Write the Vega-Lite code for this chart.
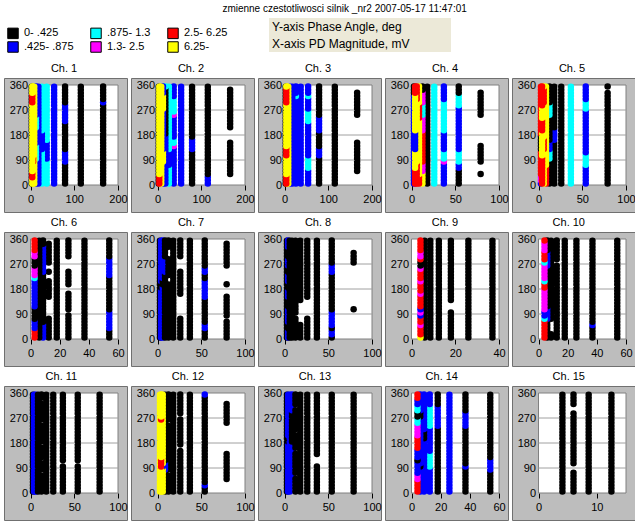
{
"$schema":"https://vega.github.io/schema/vega-lite/v6.json",
"padding":{"left":3,"top":4,"right":8,"bottom":0},
"background":"white",
"title":{"text":"zmienne czestotliwosci silnik _nr2 2007-05-17 11:47:01","fontSize":10,"fontWeight":"normal","font":"Liberation Sans","anchor":"middle","dx":25,"offset":4,"color":"#000000"},
"data":{"values":[
{"ch":1,"mv":2.8,"p0":5.625,"p1":354.375,"c":"k"},
{"ch":1,"mv":166,"p0":5.625,"p1":286.875,"c":"k"},
{"ch":1,"mv":166,"p0":298.125,"p1":298.125,"c":"b"},
{"ch":1,"mv":166,"p0":309.375,"p1":354.375,"c":"k"},
{"ch":1,"mv":115,"p0":5.625,"p1":354.375,"c":"k"},
{"ch":1,"mv":79,"p0":5.625,"p1":73.125,"c":"k"},
{"ch":1,"mv":79,"p0":84.375,"p1":118.125,"c":"b"},
{"ch":1,"mv":79,"p0":129.375,"p1":219.375,"c":"k"},
{"ch":1,"mv":79,"p0":230.625,"p1":286.875,"c":"b"},
{"ch":1,"mv":79,"p0":298.125,"p1":354.375,"c":"k"},
{"ch":1,"mv":54,"p0":5.625,"p1":354.375,"c":"b"},
{"ch":1,"mv":37,"p0":5.625,"p1":84.375,"c":"c"},
{"ch":1,"mv":37,"p0":95.625,"p1":151.875,"c":"b"},
{"ch":1,"mv":37,"p0":163.125,"p1":354.375,"c":"c"},
{"ch":1,"mv":26,"p0":5.625,"p1":118.125,"c":"c"},
{"ch":1,"mv":26,"p0":129.375,"p1":185.625,"c":"b"},
{"ch":1,"mv":26,"p0":196.875,"p1":354.375,"c":"c"},
{"ch":1,"mv":18,"p0":5.625,"p1":354.375,"c":"b"},
{"ch":1,"mv":12.5,"p0":5.625,"p1":84.375,"c":"b"},
{"ch":1,"mv":12.5,"p0":95.625,"p1":140.625,"c":"c"},
{"ch":1,"mv":12.5,"p0":151.875,"p1":196.875,"c":"b"},
{"ch":1,"mv":12.5,"p0":208.125,"p1":241.875,"c":"c"},
{"ch":1,"mv":12.5,"p0":253.125,"p1":354.375,"c":"b"},
{"ch":1,"mv":8.6,"p0":5.625,"p1":354.375,"c":"y"},
{"ch":1,"mv":6,"p0":5.625,"p1":73.125,"c":"y"},
{"ch":1,"mv":6,"p0":84.375,"p1":95.625,"c":"r"},
{"ch":1,"mv":6,"p0":106.875,"p1":354.375,"c":"y"},
{"ch":1,"mv":4.1,"p0":5.625,"p1":16.875,"c":"y"},
{"ch":1,"mv":4.1,"p0":28.125,"p1":39.375,"c":"r"},
{"ch":1,"mv":4.1,"p0":50.625,"p1":286.875,"c":"y"},
{"ch":1,"mv":4.1,"p0":298.125,"p1":320.625,"c":"r"},
{"ch":1,"mv":4.1,"p0":331.875,"p1":354.375,"c":"y"},

{"ch":2,"mv":2.8,"p0":5.625,"p1":354.375,"c":"k"},
{"ch":2,"mv":166,"p0":39.375,"p1":151.875,"c":"k"},
{"ch":2,"mv":166,"p0":208.125,"p1":343.125,"c":"k"},
{"ch":2,"mv":115,"p0":5.625,"p1":28.125,"c":"b"},
{"ch":2,"mv":115,"p0":39.375,"p1":354.375,"c":"k"},
{"ch":2,"mv":79,"p0":5.625,"p1":118.125,"c":"k"},
{"ch":2,"mv":79,"p0":129.375,"p1":163.125,"c":"b"},
{"ch":2,"mv":79,"p0":174.375,"p1":354.375,"c":"k"},
{"ch":2,"mv":54,"p0":5.625,"p1":354.375,"c":"b"},
{"ch":2,"mv":37,"p0":5.625,"p1":129.375,"c":"b"},
{"ch":2,"mv":37,"p0":140.625,"p1":140.625,"c":"m"},
{"ch":2,"mv":37,"p0":151.875,"p1":163.125,"c":"c"},
{"ch":2,"mv":37,"p0":174.375,"p1":241.875,"c":"b"},
{"ch":2,"mv":37,"p0":253.125,"p1":253.125,"c":"m"},
{"ch":2,"mv":37,"p0":264.375,"p1":309.375,"c":"c"},
{"ch":2,"mv":37,"p0":320.625,"p1":354.375,"c":"b"},
{"ch":2,"mv":26,"p0":5.625,"p1":61.875,"c":"c"},
{"ch":2,"mv":26,"p0":73.125,"p1":118.125,"c":"b"},
{"ch":2,"mv":26,"p0":129.375,"p1":354.375,"c":"c"},
{"ch":2,"mv":18,"p0":5.625,"p1":174.375,"c":"b"},
{"ch":2,"mv":18,"p0":185.625,"p1":343.125,"c":"k"},
{"ch":2,"mv":18,"p0":354.375,"p1":354.375,"c":"c"},
{"ch":2,"mv":12.5,"p0":5.625,"p1":73.125,"c":"b"},
{"ch":2,"mv":12.5,"p0":84.375,"p1":118.125,"c":"y"},
{"ch":2,"mv":12.5,"p0":129.375,"p1":264.375,"c":"b"},
{"ch":2,"mv":12.5,"p0":275.625,"p1":320.625,"c":"y"},
{"ch":2,"mv":12.5,"p0":331.875,"p1":354.375,"c":"b"},
{"ch":2,"mv":8.6,"p0":5.625,"p1":354.375,"c":"y"},
{"ch":2,"mv":6,"p0":5.625,"p1":354.375,"c":"y"},
{"ch":2,"mv":4.1,"p0":5.625,"p1":28.125,"c":"r"},
{"ch":2,"mv":4.1,"p0":39.375,"p1":354.375,"c":"y"},

{"ch":3,"mv":2.8,"p0":5.625,"p1":354.375,"c":"k"},
{"ch":3,"mv":166,"p0":50.625,"p1":151.875,"c":"k"},
{"ch":3,"mv":166,"p0":253.125,"p1":331.875,"c":"k"},
{"ch":3,"mv":115,"p0":5.625,"p1":354.375,"c":"k"},
{"ch":3,"mv":79,"p0":5.625,"p1":95.625,"c":"k"},
{"ch":3,"mv":79,"p0":106.875,"p1":129.375,"c":"b"},
{"ch":3,"mv":79,"p0":140.625,"p1":185.625,"c":"k"},
{"ch":3,"mv":79,"p0":196.875,"p1":241.875,"c":"b"},
{"ch":3,"mv":79,"p0":253.125,"p1":354.375,"c":"k"},
{"ch":3,"mv":54,"p0":5.625,"p1":50.625,"c":"b"},
{"ch":3,"mv":54,"p0":61.875,"p1":95.625,"c":"c"},
{"ch":3,"mv":54,"p0":106.875,"p1":219.375,"c":"b"},
{"ch":3,"mv":54,"p0":230.625,"p1":264.375,"c":"c"},
{"ch":3,"mv":54,"p0":275.625,"p1":309.375,"c":"b"},
{"ch":3,"mv":54,"p0":320.625,"p1":320.625,"c":"c"},
{"ch":3,"mv":54,"p0":331.875,"p1":354.375,"c":"b"},
{"ch":3,"mv":37,"p0":5.625,"p1":354.375,"c":"b"},
{"ch":3,"mv":26,"p0":5.625,"p1":309.375,"c":"b"},
{"ch":3,"mv":26,"p0":320.625,"p1":320.625,"c":"c"},
{"ch":3,"mv":26,"p0":331.875,"p1":354.375,"c":"b"},
{"ch":3,"mv":18,"p0":5.625,"p1":354.375,"c":"b"},
{"ch":3,"mv":12.5,"p0":5.625,"p1":354.375,"c":"b"},
{"ch":3,"mv":8.6,"p0":5.625,"p1":354.375,"c":"y"},
{"ch":3,"mv":6,"p0":5.625,"p1":354.375,"c":"y"},
{"ch":3,"mv":4.1,"p0":5.625,"p1":28.125,"c":"r"},
{"ch":3,"mv":4.1,"p0":39.375,"p1":95.625,"c":"y"},
{"ch":3,"mv":4.1,"p0":106.875,"p1":129.375,"c":"r"},
{"ch":3,"mv":4.1,"p0":140.625,"p1":286.875,"c":"y"},
{"ch":3,"mv":4.1,"p0":298.125,"p1":343.125,"c":"r"},
{"ch":3,"mv":4.1,"p0":354.375,"p1":354.375,"c":"y"},

{"ch":4,"mv":2.8,"p0":5.625,"p1":320.625,"c":"b"},
{"ch":4,"mv":2.8,"p0":331.875,"p1":354.375,"c":"k"},
{"ch":4,"mv":79,"p0":39.375,"p1":39.375,"c":"k"},
{"ch":4,"mv":79,"p0":84.375,"p1":140.625,"c":"k"},
{"ch":4,"mv":79,"p0":253.125,"p1":331.875,"c":"k"},
{"ch":4,"mv":54,"p0":5.625,"p1":50.625,"c":"k"},
{"ch":4,"mv":54,"p0":61.875,"p1":73.125,"c":"b"},
{"ch":4,"mv":54,"p0":84.375,"p1":118.125,"c":"c"},
{"ch":4,"mv":54,"p0":129.375,"p1":275.625,"c":"b"},
{"ch":4,"mv":54,"p0":286.875,"p1":320.625,"c":"c"},
{"ch":4,"mv":54,"p0":331.875,"p1":354.375,"c":"k"},
{"ch":4,"mv":37,"p0":5.625,"p1":73.125,"c":"b"},
{"ch":4,"mv":37,"p0":84.375,"p1":84.375,"c":"m"},
{"ch":4,"mv":37,"p0":95.625,"p1":118.125,"c":"c"},
{"ch":4,"mv":37,"p0":129.375,"p1":185.625,"c":"b"},
{"ch":4,"mv":37,"p0":196.875,"p1":298.125,"c":"c"},
{"ch":4,"mv":37,"p0":309.375,"p1":354.375,"c":"b"},
{"ch":4,"mv":26,"p0":5.625,"p1":354.375,"c":"c"},
{"ch":4,"mv":18,"p0":5.625,"p1":354.375,"c":"k"},
{"ch":4,"mv":12.5,"p0":5.625,"p1":39.375,"c":"y"},
{"ch":4,"mv":12.5,"p0":50.625,"p1":73.125,"c":"m"},
{"ch":4,"mv":12.5,"p0":84.375,"p1":185.625,"c":"r"},
{"ch":4,"mv":12.5,"p0":196.875,"p1":241.875,"c":"m"},
{"ch":4,"mv":12.5,"p0":253.125,"p1":286.875,"c":"c"},
{"ch":4,"mv":12.5,"p0":298.125,"p1":331.875,"c":"m"},
{"ch":4,"mv":12.5,"p0":343.125,"p1":354.375,"c":"k"},
{"ch":4,"mv":8.6,"p0":5.625,"p1":28.125,"c":"r"},
{"ch":4,"mv":8.6,"p0":39.375,"p1":230.625,"c":"y"},
{"ch":4,"mv":8.6,"p0":241.875,"p1":286.875,"c":"r"},
{"ch":4,"mv":8.6,"p0":298.125,"p1":354.375,"c":"y"},
{"ch":4,"mv":6,"p0":5.625,"p1":73.125,"c":"r"},
{"ch":4,"mv":6,"p0":84.375,"p1":298.125,"c":"y"},
{"ch":4,"mv":6,"p0":309.375,"p1":354.375,"c":"r"},
{"ch":4,"mv":4.1,"p0":5.625,"p1":50.625,"c":"r"},
{"ch":4,"mv":4.1,"p0":61.875,"p1":118.125,"c":"y"},
{"ch":4,"mv":4.1,"p0":129.375,"p1":185.625,"c":"b"},
{"ch":4,"mv":4.1,"p0":196.875,"p1":320.625,"c":"y"},
{"ch":4,"mv":4.1,"p0":331.875,"p1":354.375,"c":"r"},

{"ch":5,"mv":2.8,"p0":5.625,"p1":5.625,"c":"b"},
{"ch":5,"mv":2.8,"p0":16.875,"p1":28.125,"c":"m"},
{"ch":5,"mv":2.8,"p0":39.375,"p1":118.125,"c":"r"},
{"ch":5,"mv":2.8,"p0":129.375,"p1":174.375,"c":"k"},
{"ch":5,"mv":2.8,"p0":185.625,"p1":354.375,"c":"r"},
{"ch":5,"mv":79,"p0":5.625,"p1":331.875,"c":"k"},
{"ch":5,"mv":79,"p0":354.375,"p1":354.375,"c":"k"},
{"ch":5,"mv":54,"p0":5.625,"p1":61.875,"c":"b"},
{"ch":5,"mv":54,"p0":73.125,"p1":106.875,"c":"c"},
{"ch":5,"mv":54,"p0":118.125,"p1":264.375,"c":"b"},
{"ch":5,"mv":54,"p0":275.625,"p1":298.125,"c":"c"},
{"ch":5,"mv":54,"p0":309.375,"p1":354.375,"c":"b"},
{"ch":5,"mv":37,"p0":5.625,"p1":354.375,"c":"c"},
{"ch":5,"mv":26,"p0":5.625,"p1":354.375,"c":"k"},
{"ch":5,"mv":18,"p0":5.625,"p1":151.875,"c":"k"},
{"ch":5,"mv":18,"p0":163.125,"p1":196.875,"c":"b"},
{"ch":5,"mv":18,"p0":208.125,"p1":354.375,"c":"k"},
{"ch":5,"mv":12.5,"p0":5.625,"p1":84.375,"c":"k"},
{"ch":5,"mv":12.5,"p0":95.625,"p1":118.125,"c":"c"},
{"ch":5,"mv":12.5,"p0":129.375,"p1":151.875,"c":"b"},
{"ch":5,"mv":12.5,"p0":163.125,"p1":241.875,"c":"k"},
{"ch":5,"mv":12.5,"p0":253.125,"p1":286.875,"c":"c"},
{"ch":5,"mv":12.5,"p0":298.125,"p1":354.375,"c":"k"},
{"ch":5,"mv":8.6,"p0":5.625,"p1":61.875,"c":"r"},
{"ch":5,"mv":8.6,"p0":73.125,"p1":354.375,"c":"y"},
{"ch":5,"mv":6,"p0":5.625,"p1":118.125,"c":"y"},
{"ch":5,"mv":6,"p0":129.375,"p1":163.125,"c":"r"},
{"ch":5,"mv":6,"p0":174.375,"p1":286.875,"c":"y"},
{"ch":5,"mv":6,"p0":298.125,"p1":343.125,"c":"r"},
{"ch":5,"mv":6,"p0":354.375,"p1":354.375,"c":"y"},
{"ch":5,"mv":4.1,"p0":5.625,"p1":95.625,"c":"r"},
{"ch":5,"mv":4.1,"p0":106.875,"p1":185.625,"c":"y"},
{"ch":5,"mv":4.1,"p0":196.875,"p1":230.625,"c":"r"},
{"ch":5,"mv":4.1,"p0":241.875,"p1":275.625,"c":"y"},
{"ch":5,"mv":4.1,"p0":286.875,"p1":354.375,"c":"r"},

{"ch":6,"mv":54,"p0":5.625,"p1":28.125,"c":"k"},
{"ch":6,"mv":54,"p0":39.375,"p1":95.625,"c":"b"},
{"ch":6,"mv":54,"p0":106.875,"p1":219.375,"c":"k"},
{"ch":6,"mv":54,"p0":230.625,"p1":286.875,"c":"b"},
{"ch":6,"mv":54,"p0":298.125,"p1":354.375,"c":"k"},
{"ch":6,"mv":37,"p0":5.625,"p1":354.375,"c":"k"},
{"ch":6,"mv":26,"p0":5.625,"p1":84.375,"c":"k"},
{"ch":6,"mv":26,"p0":106.875,"p1":163.125,"c":"k"},
{"ch":6,"mv":26,"p0":196.875,"p1":241.875,"c":"k"},
{"ch":6,"mv":26,"p0":298.125,"p1":354.375,"c":"k"},
{"ch":6,"mv":18,"p0":5.625,"p1":354.375,"c":"k"},
{"ch":6,"mv":12.5,"p0":5.625,"p1":73.125,"c":"k"},
{"ch":6,"mv":12.5,"p0":151.875,"p1":208.125,"c":"k"},
{"ch":6,"mv":12.5,"p0":241.875,"p1":241.875,"c":"k"},
{"ch":6,"mv":12.5,"p0":275.625,"p1":343.125,"c":"k"},
{"ch":6,"mv":8.6,"p0":5.625,"p1":50.625,"c":"b"},
{"ch":6,"mv":8.6,"p0":61.875,"p1":230.625,"c":"k"},
{"ch":6,"mv":8.6,"p0":241.875,"p1":331.875,"c":"b"},
{"ch":6,"mv":8.6,"p0":343.125,"p1":354.375,"c":"k"},
{"ch":6,"mv":6,"p0":5.625,"p1":354.375,"c":"k"},
{"ch":6,"mv":2.8,"p0":5.625,"p1":28.125,"c":"r"},
{"ch":6,"mv":2.8,"p0":39.375,"p1":61.875,"c":"b"},
{"ch":6,"mv":2.8,"p0":73.125,"p1":106.875,"c":"k"},
{"ch":6,"mv":2.8,"p0":118.125,"p1":208.125,"c":"b"},
{"ch":6,"mv":2.8,"p0":219.375,"p1":219.375,"c":"c"},
{"ch":6,"mv":2.8,"p0":230.625,"p1":253.125,"c":"m"},
{"ch":6,"mv":2.8,"p0":264.375,"p1":286.875,"c":"k"},
{"ch":6,"mv":2.8,"p0":298.125,"p1":309.375,"c":"m"},
{"ch":6,"mv":2.8,"p0":320.625,"p1":354.375,"c":"r"},

{"ch":7,"mv":2.8,"p0":5.625,"p1":354.375,"c":"k"},
{"ch":7,"mv":4.1,"p0":5.625,"p1":174.375,"c":"b"},
{"ch":7,"mv":4.1,"p0":185.625,"p1":196.875,"c":"k"},
{"ch":7,"mv":4.1,"p0":208.125,"p1":354.375,"c":"b"},
{"ch":7,"mv":6,"p0":5.625,"p1":185.625,"c":"b"},
{"ch":7,"mv":6,"p0":196.875,"p1":208.125,"c":"k"},
{"ch":7,"mv":6,"p0":219.375,"p1":354.375,"c":"b"},
{"ch":7,"mv":8.6,"p0":5.625,"p1":230.625,"c":"k"},
{"ch":7,"mv":8.6,"p0":241.875,"p1":286.875,"c":"b"},
{"ch":7,"mv":8.6,"p0":298.125,"p1":354.375,"c":"k"},
{"ch":7,"mv":12.5,"p0":5.625,"p1":196.875,"c":"k"},
{"ch":7,"mv":12.5,"p0":230.625,"p1":286.875,"c":"k"},
{"ch":7,"mv":12.5,"p0":331.875,"p1":354.375,"c":"k"},
{"ch":7,"mv":18,"p0":5.625,"p1":354.375,"c":"k"},
{"ch":7,"mv":26,"p0":5.625,"p1":73.125,"c":"k"},
{"ch":7,"mv":26,"p0":163.125,"p1":241.875,"c":"k"},
{"ch":7,"mv":26,"p0":298.125,"p1":354.375,"c":"k"},
{"ch":7,"mv":37,"p0":5.625,"p1":354.375,"c":"k"},
{"ch":7,"mv":54,"p0":5.625,"p1":28.125,"c":"k"},
{"ch":7,"mv":54,"p0":39.375,"p1":50.625,"c":"b"},
{"ch":7,"mv":54,"p0":61.875,"p1":140.625,"c":"k"},
{"ch":7,"mv":54,"p0":151.875,"p1":208.125,"c":"b"},
{"ch":7,"mv":54,"p0":219.375,"p1":230.625,"c":"k"},
{"ch":7,"mv":54,"p0":241.875,"p1":253.125,"c":"b"},
{"ch":7,"mv":54,"p0":264.375,"p1":354.375,"c":"k"},
{"ch":7,"mv":79,"p0":5.625,"p1":61.875,"c":"k"},
{"ch":7,"mv":79,"p0":84.375,"p1":151.875,"c":"k"},
{"ch":7,"mv":79,"p0":196.875,"p1":196.875,"c":"k"},
{"ch":7,"mv":79,"p0":264.375,"p1":343.125,"c":"k"},

{"ch":8,"mv":2.8,"p0":5.625,"p1":354.375,"c":"k"},
{"ch":8,"mv":4.1,"p0":5.625,"p1":28.125,"c":"b"},
{"ch":8,"mv":4.1,"p0":39.375,"p1":50.625,"c":"k"},
{"ch":8,"mv":4.1,"p0":61.875,"p1":106.875,"c":"b"},
{"ch":8,"mv":4.1,"p0":118.125,"p1":140.625,"c":"k"},
{"ch":8,"mv":4.1,"p0":151.875,"p1":174.375,"c":"b"},
{"ch":8,"mv":4.1,"p0":185.625,"p1":196.875,"c":"k"},
{"ch":8,"mv":4.1,"p0":208.125,"p1":230.625,"c":"b"},
{"ch":8,"mv":4.1,"p0":241.875,"p1":253.125,"c":"k"},
{"ch":8,"mv":4.1,"p0":264.375,"p1":286.875,"c":"b"},
{"ch":8,"mv":4.1,"p0":298.125,"p1":320.625,"c":"k"},
{"ch":8,"mv":4.1,"p0":331.875,"p1":354.375,"c":"b"},
{"ch":8,"mv":6,"p0":5.625,"p1":354.375,"c":"k"},
{"ch":8,"mv":8.6,"p0":5.625,"p1":95.625,"c":"k"},
{"ch":8,"mv":8.6,"p0":118.125,"p1":174.375,"c":"k"},
{"ch":8,"mv":8.6,"p0":196.875,"p1":354.375,"c":"k"},
{"ch":8,"mv":12.5,"p0":5.625,"p1":73.125,"c":"k"},
{"ch":8,"mv":12.5,"p0":95.625,"p1":354.375,"c":"k"},
{"ch":8,"mv":18,"p0":5.625,"p1":50.625,"c":"k"},
{"ch":8,"mv":18,"p0":140.625,"p1":354.375,"c":"k"},
{"ch":8,"mv":26,"p0":5.625,"p1":73.125,"c":"k"},
{"ch":8,"mv":26,"p0":151.875,"p1":354.375,"c":"k"},
{"ch":8,"mv":37,"p0":5.625,"p1":354.375,"c":"k"},
{"ch":8,"mv":54,"p0":5.625,"p1":5.625,"c":"k"},
{"ch":8,"mv":54,"p0":16.875,"p1":28.125,"c":"b"},
{"ch":8,"mv":54,"p0":39.375,"p1":39.375,"c":"k"},
{"ch":8,"mv":54,"p0":50.625,"p1":95.625,"c":"b"},
{"ch":8,"mv":54,"p0":106.875,"p1":230.625,"c":"k"},
{"ch":8,"mv":54,"p0":241.875,"p1":264.375,"c":"b"},
{"ch":8,"mv":54,"p0":275.625,"p1":354.375,"c":"k"},
{"ch":8,"mv":79,"p0":106.875,"p1":106.875,"c":"k"},
{"ch":8,"mv":79,"p0":275.625,"p1":309.375,"c":"k"},

{"ch":9,"mv":37,"p0":5.625,"p1":354.375,"c":"k"},
{"ch":9,"mv":26,"p0":5.625,"p1":354.375,"c":"k"},
{"ch":9,"mv":18,"p0":5.625,"p1":95.625,"c":"k"},
{"ch":9,"mv":18,"p0":140.625,"p1":354.375,"c":"k"},
{"ch":9,"mv":12.5,"p0":5.625,"p1":354.375,"c":"k"},
{"ch":9,"mv":8.6,"p0":5.625,"p1":354.375,"c":"k"},
{"ch":9,"mv":6,"p0":5.625,"p1":354.375,"c":"k"},
{"ch":9,"mv":4.1,"p0":5.625,"p1":5.625,"c":"y"},
{"ch":9,"mv":4.1,"p0":16.875,"p1":39.375,"c":"r"},
{"ch":9,"mv":4.1,"p0":50.625,"p1":50.625,"c":"m"},
{"ch":9,"mv":4.1,"p0":61.875,"p1":73.125,"c":"r"},
{"ch":9,"mv":4.1,"p0":84.375,"p1":84.375,"c":"b"},
{"ch":9,"mv":4.1,"p0":95.625,"p1":95.625,"c":"m"},
{"ch":9,"mv":4.1,"p0":106.875,"p1":106.875,"c":"b"},
{"ch":9,"mv":4.1,"p0":118.125,"p1":151.875,"c":"r"},
{"ch":9,"mv":4.1,"p0":163.125,"p1":163.125,"c":"m"},
{"ch":9,"mv":4.1,"p0":174.375,"p1":196.875,"c":"r"},
{"ch":9,"mv":4.1,"p0":208.125,"p1":208.125,"c":"m"},
{"ch":9,"mv":4.1,"p0":219.375,"p1":241.875,"c":"r"},
{"ch":9,"mv":4.1,"p0":253.125,"p1":253.125,"c":"m"},
{"ch":9,"mv":4.1,"p0":264.375,"p1":275.625,"c":"k"},
{"ch":9,"mv":4.1,"p0":286.875,"p1":286.875,"c":"r"},
{"ch":9,"mv":4.1,"p0":298.125,"p1":309.375,"c":"m"},
{"ch":9,"mv":4.1,"p0":320.625,"p1":354.375,"c":"r"},

{"ch":10,"mv":54,"p0":5.625,"p1":354.375,"c":"k"},
{"ch":10,"mv":37,"p0":5.625,"p1":39.375,"c":"k"},
{"ch":10,"mv":37,"p0":50.625,"p1":50.625,"c":"b"},
{"ch":10,"mv":37,"p0":61.875,"p1":354.375,"c":"k"},
{"ch":10,"mv":26,"p0":5.625,"p1":354.375,"c":"k"},
{"ch":10,"mv":18,"p0":5.625,"p1":354.375,"c":"k"},
{"ch":10,"mv":12.5,"p0":5.625,"p1":264.375,"c":"k"},
{"ch":10,"mv":12.5,"p0":286.875,"p1":354.375,"c":"k"},
{"ch":10,"mv":8.6,"p0":5.625,"p1":16.875,"c":"k"},
{"ch":10,"mv":8.6,"p0":73.125,"p1":354.375,"c":"k"},
{"ch":10,"mv":6,"p0":5.625,"p1":61.875,"c":"k"},
{"ch":10,"mv":6,"p0":73.125,"p1":106.875,"c":"b"},
{"ch":10,"mv":6,"p0":118.125,"p1":253.125,"c":"k"},
{"ch":10,"mv":6,"p0":264.375,"p1":309.375,"c":"b"},
{"ch":10,"mv":6,"p0":320.625,"p1":354.375,"c":"k"},
{"ch":10,"mv":4.1,"p0":5.625,"p1":61.875,"c":"r"},
{"ch":10,"mv":4.1,"p0":73.125,"p1":73.125,"c":"c"},
{"ch":10,"mv":4.1,"p0":84.375,"p1":95.625,"c":"b"},
{"ch":10,"mv":4.1,"p0":106.875,"p1":174.375,"c":"m"},
{"ch":10,"mv":4.1,"p0":185.625,"p1":196.875,"c":"r"},
{"ch":10,"mv":4.1,"p0":208.125,"p1":208.125,"c":"c"},
{"ch":10,"mv":4.1,"p0":219.375,"p1":264.375,"c":"m"},
{"ch":10,"mv":4.1,"p0":275.625,"p1":275.625,"c":"c"},
{"ch":10,"mv":4.1,"p0":286.875,"p1":309.375,"c":"r"},
{"ch":10,"mv":4.1,"p0":320.625,"p1":343.125,"c":"m"},
{"ch":10,"mv":4.1,"p0":354.375,"p1":354.375,"c":"r"},

{"ch":11,"mv":2.8,"p0":5.625,"p1":354.375,"c":"k"},
{"ch":11,"mv":4.1,"p0":5.625,"p1":354.375,"c":"b"},
{"ch":11,"mv":6,"p0":5.625,"p1":354.375,"c":"b"},
{"ch":11,"mv":8.6,"p0":5.625,"p1":354.375,"c":"k"},
{"ch":11,"mv":12.5,"p0":5.625,"p1":61.875,"c":"k"},
{"ch":11,"mv":12.5,"p0":84.375,"p1":106.875,"c":"k"},
{"ch":11,"mv":12.5,"p0":129.375,"p1":163.125,"c":"k"},
{"ch":11,"mv":12.5,"p0":185.625,"p1":241.875,"c":"k"},
{"ch":11,"mv":12.5,"p0":264.375,"p1":320.625,"c":"k"},
{"ch":11,"mv":12.5,"p0":343.125,"p1":354.375,"c":"k"},
{"ch":11,"mv":18,"p0":5.625,"p1":354.375,"c":"k"},
{"ch":11,"mv":26,"p0":5.625,"p1":354.375,"c":"k"},
{"ch":11,"mv":37,"p0":5.625,"p1":95.625,"c":"k"},
{"ch":11,"mv":37,"p0":118.125,"p1":354.375,"c":"k"},
{"ch":11,"mv":54,"p0":5.625,"p1":95.625,"c":"k"},
{"ch":11,"mv":54,"p0":118.125,"p1":354.375,"c":"k"},
{"ch":11,"mv":79,"p0":5.625,"p1":354.375,"c":"k"},

{"ch":12,"mv":79,"p0":50.625,"p1":140.625,"c":"k"},
{"ch":12,"mv":79,"p0":253.125,"p1":320.625,"c":"k"},
{"ch":12,"mv":54,"p0":5.625,"p1":16.875,"c":"k"},
{"ch":12,"mv":54,"p0":28.125,"p1":28.125,"c":"b"},
{"ch":12,"mv":54,"p0":39.375,"p1":343.125,"c":"k"},
{"ch":12,"mv":54,"p0":354.375,"p1":354.375,"c":"b"},
{"ch":12,"mv":37,"p0":5.625,"p1":354.375,"c":"k"},
{"ch":12,"mv":26,"p0":5.625,"p1":151.875,"c":"k"},
{"ch":12,"mv":26,"p0":174.375,"p1":264.375,"c":"k"},
{"ch":12,"mv":26,"p0":286.875,"p1":354.375,"c":"k"},
{"ch":12,"mv":18,"p0":5.625,"p1":354.375,"c":"k"},
{"ch":12,"mv":12.5,"p0":5.625,"p1":61.875,"c":"k"},
{"ch":12,"mv":12.5,"p0":84.375,"p1":241.875,"c":"k"},
{"ch":12,"mv":12.5,"p0":264.375,"p1":354.375,"c":"k"},
{"ch":12,"mv":8.6,"p0":5.625,"p1":73.125,"c":"k"},
{"ch":12,"mv":8.6,"p0":84.375,"p1":106.875,"c":"b"},
{"ch":12,"mv":8.6,"p0":118.125,"p1":354.375,"c":"k"},
{"ch":12,"mv":2.8,"p0":5.625,"p1":354.375,"c":"y"},
{"ch":12,"mv":6,"p0":5.625,"p1":84.375,"c":"y"},
{"ch":12,"mv":6,"p0":95.625,"p1":95.625,"c":"b"},
{"ch":12,"mv":6,"p0":106.875,"p1":354.375,"c":"y"},
{"ch":12,"mv":4.1,"p0":5.625,"p1":84.375,"c":"y"},
{"ch":12,"mv":4.1,"p0":95.625,"p1":118.125,"c":"r"},
{"ch":12,"mv":4.1,"p0":129.375,"p1":253.125,"c":"y"},
{"ch":12,"mv":4.1,"p0":264.375,"p1":264.375,"c":"r"},
{"ch":12,"mv":4.1,"p0":275.625,"p1":354.375,"c":"y"},

{"ch":13,"mv":2.8,"p0":5.625,"p1":354.375,"c":"k"},
{"ch":13,"mv":4.1,"p0":5.625,"p1":174.375,"c":"b"},
{"ch":13,"mv":4.1,"p0":185.625,"p1":196.875,"c":"k"},
{"ch":13,"mv":4.1,"p0":208.125,"p1":354.375,"c":"b"},
{"ch":13,"mv":6,"p0":5.625,"p1":354.375,"c":"b"},
{"ch":13,"mv":8.6,"p0":50.625,"p1":174.375,"c":"b"},
{"ch":13,"mv":8.6,"p0":185.625,"p1":286.875,"c":"k"},
{"ch":13,"mv":8.6,"p0":298.125,"p1":354.375,"c":"b"},
{"ch":13,"mv":12.5,"p0":5.625,"p1":50.625,"c":"k"},
{"ch":13,"mv":12.5,"p0":73.125,"p1":140.625,"c":"k"},
{"ch":13,"mv":12.5,"p0":163.125,"p1":208.125,"c":"k"},
{"ch":13,"mv":12.5,"p0":230.625,"p1":298.125,"c":"k"},
{"ch":13,"mv":12.5,"p0":320.625,"p1":354.375,"c":"k"},
{"ch":13,"mv":18,"p0":5.625,"p1":354.375,"c":"k"},
{"ch":13,"mv":26,"p0":5.625,"p1":354.375,"c":"k"},
{"ch":13,"mv":37,"p0":5.625,"p1":95.625,"c":"k"},
{"ch":13,"mv":37,"p0":140.625,"p1":354.375,"c":"k"},
{"ch":13,"mv":54,"p0":5.625,"p1":354.375,"c":"k"},
{"ch":13,"mv":79,"p0":5.625,"p1":354.375,"c":"k"},

{"ch":14,"mv":54,"p0":5.625,"p1":73.125,"c":"k"},
{"ch":14,"mv":54,"p0":84.375,"p1":118.125,"c":"b"},
{"ch":14,"mv":54,"p0":129.375,"p1":354.375,"c":"k"},
{"ch":14,"mv":37,"p0":5.625,"p1":84.375,"c":"k"},
{"ch":14,"mv":37,"p0":95.625,"p1":95.625,"c":"b"},
{"ch":14,"mv":37,"p0":106.875,"p1":230.625,"c":"k"},
{"ch":14,"mv":37,"p0":241.875,"p1":286.875,"c":"b"},
{"ch":14,"mv":37,"p0":298.125,"p1":354.375,"c":"k"},
{"ch":14,"mv":26,"p0":5.625,"p1":354.375,"c":"b"},
{"ch":14,"mv":18,"p0":5.625,"p1":230.625,"c":"k"},
{"ch":14,"mv":18,"p0":241.875,"p1":309.375,"c":"b"},
{"ch":14,"mv":18,"p0":320.625,"p1":354.375,"c":"k"},
{"ch":14,"mv":12.5,"p0":5.625,"p1":84.375,"c":"b"},
{"ch":14,"mv":12.5,"p0":95.625,"p1":140.625,"c":"c"},
{"ch":14,"mv":12.5,"p0":151.875,"p1":230.625,"c":"b"},
{"ch":14,"mv":12.5,"p0":241.875,"p1":309.375,"c":"c"},
{"ch":14,"mv":12.5,"p0":320.625,"p1":354.375,"c":"b"},
{"ch":14,"mv":8.6,"p0":5.625,"p1":185.625,"c":"b"},
{"ch":14,"mv":8.6,"p0":196.875,"p1":219.375,"c":"k"},
{"ch":14,"mv":8.6,"p0":230.625,"p1":354.375,"c":"b"},
{"ch":14,"mv":6,"p0":5.625,"p1":84.375,"c":"b"},
{"ch":14,"mv":6,"p0":95.625,"p1":95.625,"c":"k"},
{"ch":14,"mv":6,"p0":106.875,"p1":264.375,"c":"b"},
{"ch":14,"mv":6,"p0":275.625,"p1":286.875,"c":"k"},
{"ch":14,"mv":6,"p0":298.125,"p1":354.375,"c":"b"},
{"ch":14,"mv":4.1,"p0":5.625,"p1":39.375,"c":"r"},
{"ch":14,"mv":4.1,"p0":50.625,"p1":61.875,"c":"m"},
{"ch":14,"mv":4.1,"p0":73.125,"p1":106.875,"c":"b"},
{"ch":14,"mv":4.1,"p0":118.125,"p1":118.125,"c":"k"},
{"ch":14,"mv":4.1,"p0":129.375,"p1":151.875,"c":"b"},
{"ch":14,"mv":4.1,"p0":163.125,"p1":196.875,"c":"r"},
{"ch":14,"mv":4.1,"p0":208.125,"p1":241.875,"c":"m"},
{"ch":14,"mv":4.1,"p0":253.125,"p1":264.375,"c":"c"},
{"ch":14,"mv":4.1,"p0":275.625,"p1":286.875,"c":"k"},
{"ch":14,"mv":4.1,"p0":298.125,"p1":309.375,"c":"c"},
{"ch":14,"mv":4.1,"p0":320.625,"p1":331.875,"c":"b"},
{"ch":14,"mv":4.1,"p0":343.125,"p1":354.375,"c":"r"},

{"ch":15,"mv":4.1,"p0":5.625,"p1":354.375,"c":"k"},
{"ch":15,"mv":6,"p0":5.625,"p1":73.125,"c":"k"},
{"ch":15,"mv":6,"p0":106.875,"p1":286.875,"c":"k"},
{"ch":15,"mv":6,"p0":320.625,"p1":354.375,"c":"k"},
{"ch":15,"mv":8.6,"p0":5.625,"p1":354.375,"c":"k"},
{"ch":15,"mv":12.5,"p0":5.625,"p1":354.375,"c":"k"}
]},
"spacing":3,
"vconcat":[
{"spacing":10,"vconcat":[
 {"spacing":0,"hconcat":[
  {"width":265,"height":34,"view":{"stroke":null,"fill":null},
   "data":{"values":[{"c":"0- .425"},{"c":".425- .875"},{"c":".875- 1.3"},{"c":"1.3- 2.5"},{"c":"2.5- 6.25"},{"c":"6.25-"}]},
   "mark":{"type":"square","size":0,"opacity":1},
   "encoding":{"fill":{"field":"c","type":"nominal","title":null,
     "scale":{"domain":["0- .425",".425- .875",".875- 1.3","1.3- 2.5","2.5- 6.25","6.25-"],"range":["#000000","#0000ff","#00ffff","#ff00ff","#ff0000","#ffff00"]},
     "legend":{"orient":"none","legendX":3,"legendY":9,"columns":3,"columnPadding":14,"rowPadding":-4,"symbolType":"square","symbolSize":110,"symbolStrokeColor":"#000000","symbolStrokeWidth":1,"symbolOpacity":1,"labelFontSize":11,"labelFont":"Liberation Sans","labelColor":"#000000","labelOffset":5,"padding":0}}}},
  {"width":182,"height":34,"view":{"fill":"#ece9d8","stroke":null},
   "data":{"values":[{"t":"Y-axis Phase Angle, deg"},{"t":"X-axis PD Magnitude, mV"}]},
   "mark":{"type":"text","align":"left","dx":-88,"fontSize":12,"font":"Liberation Sans","color":"#000000"},
   "encoding":{"y":{"field":"t","type":"nominal","sort":null,"axis":null},"text":{"field":"t"}}}
 ]},
 {"spacing":2,"hconcat":[
  {"width":123,"height":134,"title":{"text":"Ch. 1","anchor":"end","dx":-50,"fontSize":11,"fontWeight":400,"font":"Liberation Sans"},"layer":[
   {"data":{"values":[{}]},"mark":{"type":"rect","fill":"white","stroke":"#808080","strokeWidth":1},"encoding":{"x":{"datum":0,"type":"quantitative","scale":{"domain":[0,200],"range":[26.5,114],"nice":false},"axis":{"values":[0,100,200],"offset":-27,"title":null}},"x2":{"datum":200},"y":{"datum":0,"type":"quantitative","scale":{"domain":[0,360],"range":[107,7],"nice":false},"axis":{"values":[0,90,180,270,360],"offset":-26.5,"ticks":false,"title":null}},"y2":{"datum":360}}},
   {"data":{"values":[{"g":90},{"g":180},{"g":270}]},"mark":{"type":"rule","color":"#a0a0a0"},"encoding":{"y":{"field":"g","type":"quantitative","scale":{"domain":[0,360],"range":[107,7],"nice":false},"axis":{"values":[0,90,180,270,360],"offset":-26.5,"ticks":false,"title":null}},"x":{"datum":0,"type":"quantitative","scale":{"domain":[0,200],"range":[26.5,114],"nice":false},"axis":{"values":[0,100,200],"offset":-27,"title":null}},"x2":{"datum":200}}},
   {"transform":[{"filter":"datum.ch==1"}],"mark":{"type":"rule","strokeWidth":6.5,"strokeCap":"round","strokeDash":[0,3.12]},"encoding":{"x":{"field":"mv","type":"quantitative","scale":{"domain":[0,200],"range":[26.5,114],"nice":false},"axis":{"values":[0,100,200],"offset":-27,"title":null}},"y":{"field":"p0","type":"quantitative","scale":{"domain":[0,360],"range":[107,7],"nice":false},"axis":{"values":[0,90,180,270,360],"offset":-26.5,"ticks":false,"title":null}},"y2":{"field":"p1"},"color":{"field":"c","type":"nominal","scale":{"domain":["k","b","c","m","r","y"],"range":["#000000","#0000ff","#00ffff","#ff00ff","#ff0000","#ffff00"]},"legend":null}}}
  ]},
  {"width":123,"height":134,"title":{"text":"Ch. 2","anchor":"end","dx":-50,"fontSize":11,"fontWeight":400,"font":"Liberation Sans"},"layer":[
   {"data":{"values":[{}]},"mark":{"type":"rect","fill":"white","stroke":"#808080","strokeWidth":1},"encoding":{"x":{"datum":0,"type":"quantitative","scale":{"domain":[0,200],"range":[26.5,114],"nice":false},"axis":{"values":[0,100,200],"offset":-27,"title":null}},"x2":{"datum":200},"y":{"datum":0,"type":"quantitative","scale":{"domain":[0,360],"range":[107,7],"nice":false},"axis":{"values":[0,90,180,270,360],"offset":-26.5,"ticks":false,"title":null}},"y2":{"datum":360}}},
   {"data":{"values":[{"g":90},{"g":180},{"g":270}]},"mark":{"type":"rule","color":"#a0a0a0"},"encoding":{"y":{"field":"g","type":"quantitative","scale":{"domain":[0,360],"range":[107,7],"nice":false},"axis":{"values":[0,90,180,270,360],"offset":-26.5,"ticks":false,"title":null}},"x":{"datum":0,"type":"quantitative","scale":{"domain":[0,200],"range":[26.5,114],"nice":false},"axis":{"values":[0,100,200],"offset":-27,"title":null}},"x2":{"datum":200}}},
   {"transform":[{"filter":"datum.ch==2"}],"mark":{"type":"rule","strokeWidth":6.5,"strokeCap":"round","strokeDash":[0,3.12]},"encoding":{"x":{"field":"mv","type":"quantitative","scale":{"domain":[0,200],"range":[26.5,114],"nice":false},"axis":{"values":[0,100,200],"offset":-27,"title":null}},"y":{"field":"p0","type":"quantitative","scale":{"domain":[0,360],"range":[107,7],"nice":false},"axis":{"values":[0,90,180,270,360],"offset":-26.5,"ticks":false,"title":null}},"y2":{"field":"p1"},"color":{"field":"c","type":"nominal","scale":{"domain":["k","b","c","m","r","y"],"range":["#000000","#0000ff","#00ffff","#ff00ff","#ff0000","#ffff00"]},"legend":null}}}
  ]},
  {"width":123,"height":134,"title":{"text":"Ch. 3","anchor":"end","dx":-50,"fontSize":11,"fontWeight":400,"font":"Liberation Sans"},"layer":[
   {"data":{"values":[{}]},"mark":{"type":"rect","fill":"white","stroke":"#808080","strokeWidth":1},"encoding":{"x":{"datum":0,"type":"quantitative","scale":{"domain":[0,200],"range":[26.5,114],"nice":false},"axis":{"values":[0,100,200],"offset":-27,"title":null}},"x2":{"datum":200},"y":{"datum":0,"type":"quantitative","scale":{"domain":[0,360],"range":[107,7],"nice":false},"axis":{"values":[0,90,180,270,360],"offset":-26.5,"ticks":false,"title":null}},"y2":{"datum":360}}},
   {"data":{"values":[{"g":90},{"g":180},{"g":270}]},"mark":{"type":"rule","color":"#a0a0a0"},"encoding":{"y":{"field":"g","type":"quantitative","scale":{"domain":[0,360],"range":[107,7],"nice":false},"axis":{"values":[0,90,180,270,360],"offset":-26.5,"ticks":false,"title":null}},"x":{"datum":0,"type":"quantitative","scale":{"domain":[0,200],"range":[26.5,114],"nice":false},"axis":{"values":[0,100,200],"offset":-27,"title":null}},"x2":{"datum":200}}},
   {"transform":[{"filter":"datum.ch==3"}],"mark":{"type":"rule","strokeWidth":6.5,"strokeCap":"round","strokeDash":[0,3.12]},"encoding":{"x":{"field":"mv","type":"quantitative","scale":{"domain":[0,200],"range":[26.5,114],"nice":false},"axis":{"values":[0,100,200],"offset":-27,"title":null}},"y":{"field":"p0","type":"quantitative","scale":{"domain":[0,360],"range":[107,7],"nice":false},"axis":{"values":[0,90,180,270,360],"offset":-26.5,"ticks":false,"title":null}},"y2":{"field":"p1"},"color":{"field":"c","type":"nominal","scale":{"domain":["k","b","c","m","r","y"],"range":["#000000","#0000ff","#00ffff","#ff00ff","#ff0000","#ffff00"]},"legend":null}}}
  ]},
  {"width":123,"height":134,"title":{"text":"Ch. 4","anchor":"end","dx":-50,"fontSize":11,"fontWeight":400,"font":"Liberation Sans"},"layer":[
   {"data":{"values":[{}]},"mark":{"type":"rect","fill":"white","stroke":"#808080","strokeWidth":1},"encoding":{"x":{"datum":0,"type":"quantitative","scale":{"domain":[0,100],"range":[26.5,114],"nice":false},"axis":{"values":[0,50,100],"offset":-27,"title":null}},"x2":{"datum":100},"y":{"datum":0,"type":"quantitative","scale":{"domain":[0,360],"range":[107,7],"nice":false},"axis":{"values":[0,90,180,270,360],"offset":-26.5,"ticks":false,"title":null}},"y2":{"datum":360}}},
   {"data":{"values":[{"g":90},{"g":180},{"g":270}]},"mark":{"type":"rule","color":"#a0a0a0"},"encoding":{"y":{"field":"g","type":"quantitative","scale":{"domain":[0,360],"range":[107,7],"nice":false},"axis":{"values":[0,90,180,270,360],"offset":-26.5,"ticks":false,"title":null}},"x":{"datum":0,"type":"quantitative","scale":{"domain":[0,100],"range":[26.5,114],"nice":false},"axis":{"values":[0,50,100],"offset":-27,"title":null}},"x2":{"datum":100}}},
   {"transform":[{"filter":"datum.ch==4"}],"mark":{"type":"rule","strokeWidth":6.5,"strokeCap":"round","strokeDash":[0,3.12]},"encoding":{"x":{"field":"mv","type":"quantitative","scale":{"domain":[0,100],"range":[26.5,114],"nice":false},"axis":{"values":[0,50,100],"offset":-27,"title":null}},"y":{"field":"p0","type":"quantitative","scale":{"domain":[0,360],"range":[107,7],"nice":false},"axis":{"values":[0,90,180,270,360],"offset":-26.5,"ticks":false,"title":null}},"y2":{"field":"p1"},"color":{"field":"c","type":"nominal","scale":{"domain":["k","b","c","m","r","y"],"range":["#000000","#0000ff","#00ffff","#ff00ff","#ff0000","#ffff00"]},"legend":null}}}
  ]},
  {"width":123,"height":134,"title":{"text":"Ch. 5","anchor":"end","dx":-50,"fontSize":11,"fontWeight":400,"font":"Liberation Sans"},"layer":[
   {"data":{"values":[{}]},"mark":{"type":"rect","fill":"white","stroke":"#808080","strokeWidth":1},"encoding":{"x":{"datum":0,"type":"quantitative","scale":{"domain":[0,100],"range":[26.5,114],"nice":false},"axis":{"values":[0,50,100],"offset":-27,"title":null}},"x2":{"datum":100},"y":{"datum":0,"type":"quantitative","scale":{"domain":[0,360],"range":[107,7],"nice":false},"axis":{"values":[0,90,180,270,360],"offset":-26.5,"ticks":false,"title":null}},"y2":{"datum":360}}},
   {"data":{"values":[{"g":90},{"g":180},{"g":270}]},"mark":{"type":"rule","color":"#a0a0a0"},"encoding":{"y":{"field":"g","type":"quantitative","scale":{"domain":[0,360],"range":[107,7],"nice":false},"axis":{"values":[0,90,180,270,360],"offset":-26.5,"ticks":false,"title":null}},"x":{"datum":0,"type":"quantitative","scale":{"domain":[0,100],"range":[26.5,114],"nice":false},"axis":{"values":[0,50,100],"offset":-27,"title":null}},"x2":{"datum":100}}},
   {"transform":[{"filter":"datum.ch==5"}],"mark":{"type":"rule","strokeWidth":6.5,"strokeCap":"round","strokeDash":[0,3.12]},"encoding":{"x":{"field":"mv","type":"quantitative","scale":{"domain":[0,100],"range":[26.5,114],"nice":false},"axis":{"values":[0,50,100],"offset":-27,"title":null}},"y":{"field":"p0","type":"quantitative","scale":{"domain":[0,360],"range":[107,7],"nice":false},"axis":{"values":[0,90,180,270,360],"offset":-26.5,"ticks":false,"title":null}},"y2":{"field":"p1"},"color":{"field":"c","type":"nominal","scale":{"domain":["k","b","c","m","r","y"],"range":["#000000","#0000ff","#00ffff","#ff00ff","#ff0000","#ffff00"]},"legend":null}}}
  ]}
 ]}
]},
{"spacing":2,"hconcat":[
  {"width":123,"height":134,"title":{"text":"Ch. 6","anchor":"end","dx":-50,"fontSize":11,"fontWeight":400,"font":"Liberation Sans"},"layer":[
   {"data":{"values":[{}]},"mark":{"type":"rect","fill":"white","stroke":"#808080","strokeWidth":1},"encoding":{"x":{"datum":0,"type":"quantitative","scale":{"domain":[0,60],"range":[26.5,114],"nice":false},"axis":{"values":[0,20,40,60],"offset":-27,"title":null}},"x2":{"datum":60},"y":{"datum":0,"type":"quantitative","scale":{"domain":[0,360],"range":[107,7],"nice":false},"axis":{"values":[0,90,180,270,360],"offset":-26.5,"ticks":false,"title":null}},"y2":{"datum":360}}},
   {"data":{"values":[{"g":90},{"g":180},{"g":270}]},"mark":{"type":"rule","color":"#a0a0a0"},"encoding":{"y":{"field":"g","type":"quantitative","scale":{"domain":[0,360],"range":[107,7],"nice":false},"axis":{"values":[0,90,180,270,360],"offset":-26.5,"ticks":false,"title":null}},"x":{"datum":0,"type":"quantitative","scale":{"domain":[0,60],"range":[26.5,114],"nice":false},"axis":{"values":[0,20,40,60],"offset":-27,"title":null}},"x2":{"datum":60}}},
   {"transform":[{"filter":"datum.ch==6"}],"mark":{"type":"rule","strokeWidth":6.5,"strokeCap":"round","strokeDash":[0,3.12]},"encoding":{"x":{"field":"mv","type":"quantitative","scale":{"domain":[0,60],"range":[26.5,114],"nice":false},"axis":{"values":[0,20,40,60],"offset":-27,"title":null}},"y":{"field":"p0","type":"quantitative","scale":{"domain":[0,360],"range":[107,7],"nice":false},"axis":{"values":[0,90,180,270,360],"offset":-26.5,"ticks":false,"title":null}},"y2":{"field":"p1"},"color":{"field":"c","type":"nominal","scale":{"domain":["k","b","c","m","r","y"],"range":["#000000","#0000ff","#00ffff","#ff00ff","#ff0000","#ffff00"]},"legend":null}}}
  ]},
  {"width":123,"height":134,"title":{"text":"Ch. 7","anchor":"end","dx":-50,"fontSize":11,"fontWeight":400,"font":"Liberation Sans"},"layer":[
   {"data":{"values":[{}]},"mark":{"type":"rect","fill":"white","stroke":"#808080","strokeWidth":1},"encoding":{"x":{"datum":0,"type":"quantitative","scale":{"domain":[0,100],"range":[26.5,114],"nice":false},"axis":{"values":[0,50,100],"offset":-27,"title":null}},"x2":{"datum":100},"y":{"datum":0,"type":"quantitative","scale":{"domain":[0,360],"range":[107,7],"nice":false},"axis":{"values":[0,90,180,270,360],"offset":-26.5,"ticks":false,"title":null}},"y2":{"datum":360}}},
   {"data":{"values":[{"g":90},{"g":180},{"g":270}]},"mark":{"type":"rule","color":"#a0a0a0"},"encoding":{"y":{"field":"g","type":"quantitative","scale":{"domain":[0,360],"range":[107,7],"nice":false},"axis":{"values":[0,90,180,270,360],"offset":-26.5,"ticks":false,"title":null}},"x":{"datum":0,"type":"quantitative","scale":{"domain":[0,100],"range":[26.5,114],"nice":false},"axis":{"values":[0,50,100],"offset":-27,"title":null}},"x2":{"datum":100}}},
   {"transform":[{"filter":"datum.ch==7"}],"mark":{"type":"rule","strokeWidth":6.5,"strokeCap":"round","strokeDash":[0,3.12]},"encoding":{"x":{"field":"mv","type":"quantitative","scale":{"domain":[0,100],"range":[26.5,114],"nice":false},"axis":{"values":[0,50,100],"offset":-27,"title":null}},"y":{"field":"p0","type":"quantitative","scale":{"domain":[0,360],"range":[107,7],"nice":false},"axis":{"values":[0,90,180,270,360],"offset":-26.5,"ticks":false,"title":null}},"y2":{"field":"p1"},"color":{"field":"c","type":"nominal","scale":{"domain":["k","b","c","m","r","y"],"range":["#000000","#0000ff","#00ffff","#ff00ff","#ff0000","#ffff00"]},"legend":null}}}
  ]},
  {"width":123,"height":134,"title":{"text":"Ch. 8","anchor":"end","dx":-50,"fontSize":11,"fontWeight":400,"font":"Liberation Sans"},"layer":[
   {"data":{"values":[{}]},"mark":{"type":"rect","fill":"white","stroke":"#808080","strokeWidth":1},"encoding":{"x":{"datum":0,"type":"quantitative","scale":{"domain":[0,100],"range":[26.5,114],"nice":false},"axis":{"values":[0,50,100],"offset":-27,"title":null}},"x2":{"datum":100},"y":{"datum":0,"type":"quantitative","scale":{"domain":[0,360],"range":[107,7],"nice":false},"axis":{"values":[0,90,180,270,360],"offset":-26.5,"ticks":false,"title":null}},"y2":{"datum":360}}},
   {"data":{"values":[{"g":90},{"g":180},{"g":270}]},"mark":{"type":"rule","color":"#a0a0a0"},"encoding":{"y":{"field":"g","type":"quantitative","scale":{"domain":[0,360],"range":[107,7],"nice":false},"axis":{"values":[0,90,180,270,360],"offset":-26.5,"ticks":false,"title":null}},"x":{"datum":0,"type":"quantitative","scale":{"domain":[0,100],"range":[26.5,114],"nice":false},"axis":{"values":[0,50,100],"offset":-27,"title":null}},"x2":{"datum":100}}},
   {"transform":[{"filter":"datum.ch==8"}],"mark":{"type":"rule","strokeWidth":6.5,"strokeCap":"round","strokeDash":[0,3.12]},"encoding":{"x":{"field":"mv","type":"quantitative","scale":{"domain":[0,100],"range":[26.5,114],"nice":false},"axis":{"values":[0,50,100],"offset":-27,"title":null}},"y":{"field":"p0","type":"quantitative","scale":{"domain":[0,360],"range":[107,7],"nice":false},"axis":{"values":[0,90,180,270,360],"offset":-26.5,"ticks":false,"title":null}},"y2":{"field":"p1"},"color":{"field":"c","type":"nominal","scale":{"domain":["k","b","c","m","r","y"],"range":["#000000","#0000ff","#00ffff","#ff00ff","#ff0000","#ffff00"]},"legend":null}}}
  ]},
  {"width":123,"height":134,"title":{"text":"Ch. 9","anchor":"end","dx":-50,"fontSize":11,"fontWeight":400,"font":"Liberation Sans"},"layer":[
   {"data":{"values":[{}]},"mark":{"type":"rect","fill":"white","stroke":"#808080","strokeWidth":1},"encoding":{"x":{"datum":0,"type":"quantitative","scale":{"domain":[0,40],"range":[26.5,114],"nice":false},"axis":{"values":[0,20,40],"offset":-27,"title":null}},"x2":{"datum":40},"y":{"datum":0,"type":"quantitative","scale":{"domain":[0,360],"range":[107,7],"nice":false},"axis":{"values":[0,90,180,270,360],"offset":-26.5,"ticks":false,"title":null}},"y2":{"datum":360}}},
   {"data":{"values":[{"g":90},{"g":180},{"g":270}]},"mark":{"type":"rule","color":"#a0a0a0"},"encoding":{"y":{"field":"g","type":"quantitative","scale":{"domain":[0,360],"range":[107,7],"nice":false},"axis":{"values":[0,90,180,270,360],"offset":-26.5,"ticks":false,"title":null}},"x":{"datum":0,"type":"quantitative","scale":{"domain":[0,40],"range":[26.5,114],"nice":false},"axis":{"values":[0,20,40],"offset":-27,"title":null}},"x2":{"datum":40}}},
   {"transform":[{"filter":"datum.ch==9"}],"mark":{"type":"rule","strokeWidth":6.5,"strokeCap":"round","strokeDash":[0,3.12]},"encoding":{"x":{"field":"mv","type":"quantitative","scale":{"domain":[0,40],"range":[26.5,114],"nice":false},"axis":{"values":[0,20,40],"offset":-27,"title":null}},"y":{"field":"p0","type":"quantitative","scale":{"domain":[0,360],"range":[107,7],"nice":false},"axis":{"values":[0,90,180,270,360],"offset":-26.5,"ticks":false,"title":null}},"y2":{"field":"p1"},"color":{"field":"c","type":"nominal","scale":{"domain":["k","b","c","m","r","y"],"range":["#000000","#0000ff","#00ffff","#ff00ff","#ff0000","#ffff00"]},"legend":null}}}
  ]},
  {"width":123,"height":134,"title":{"text":"Ch. 10","anchor":"end","dx":-50,"fontSize":11,"fontWeight":400,"font":"Liberation Sans"},"layer":[
   {"data":{"values":[{}]},"mark":{"type":"rect","fill":"white","stroke":"#808080","strokeWidth":1},"encoding":{"x":{"datum":0,"type":"quantitative","scale":{"domain":[0,60],"range":[26.5,114],"nice":false},"axis":{"values":[0,20,40,60],"offset":-27,"title":null}},"x2":{"datum":60},"y":{"datum":0,"type":"quantitative","scale":{"domain":[0,360],"range":[107,7],"nice":false},"axis":{"values":[0,90,180,270,360],"offset":-26.5,"ticks":false,"title":null}},"y2":{"datum":360}}},
   {"data":{"values":[{"g":90},{"g":180},{"g":270}]},"mark":{"type":"rule","color":"#a0a0a0"},"encoding":{"y":{"field":"g","type":"quantitative","scale":{"domain":[0,360],"range":[107,7],"nice":false},"axis":{"values":[0,90,180,270,360],"offset":-26.5,"ticks":false,"title":null}},"x":{"datum":0,"type":"quantitative","scale":{"domain":[0,60],"range":[26.5,114],"nice":false},"axis":{"values":[0,20,40,60],"offset":-27,"title":null}},"x2":{"datum":60}}},
   {"transform":[{"filter":"datum.ch==10"}],"mark":{"type":"rule","strokeWidth":6.5,"strokeCap":"round","strokeDash":[0,3.12]},"encoding":{"x":{"field":"mv","type":"quantitative","scale":{"domain":[0,60],"range":[26.5,114],"nice":false},"axis":{"values":[0,20,40,60],"offset":-27,"title":null}},"y":{"field":"p0","type":"quantitative","scale":{"domain":[0,360],"range":[107,7],"nice":false},"axis":{"values":[0,90,180,270,360],"offset":-26.5,"ticks":false,"title":null}},"y2":{"field":"p1"},"color":{"field":"c","type":"nominal","scale":{"domain":["k","b","c","m","r","y"],"range":["#000000","#0000ff","#00ffff","#ff00ff","#ff0000","#ffff00"]},"legend":null}}}
  ]}
]},
{"spacing":2,"hconcat":[
  {"width":123,"height":134,"title":{"text":"Ch. 11","anchor":"end","dx":-50,"fontSize":11,"fontWeight":400,"font":"Liberation Sans"},"layer":[
   {"data":{"values":[{}]},"mark":{"type":"rect","fill":"white","stroke":"#808080","strokeWidth":1},"encoding":{"x":{"datum":0,"type":"quantitative","scale":{"domain":[0,100],"range":[26.5,114],"nice":false},"axis":{"values":[0,50,100],"offset":-27,"title":null}},"x2":{"datum":100},"y":{"datum":0,"type":"quantitative","scale":{"domain":[0,360],"range":[107,7],"nice":false},"axis":{"values":[0,90,180,270,360],"offset":-26.5,"ticks":false,"title":null}},"y2":{"datum":360}}},
   {"data":{"values":[{"g":90},{"g":180},{"g":270}]},"mark":{"type":"rule","color":"#a0a0a0"},"encoding":{"y":{"field":"g","type":"quantitative","scale":{"domain":[0,360],"range":[107,7],"nice":false},"axis":{"values":[0,90,180,270,360],"offset":-26.5,"ticks":false,"title":null}},"x":{"datum":0,"type":"quantitative","scale":{"domain":[0,100],"range":[26.5,114],"nice":false},"axis":{"values":[0,50,100],"offset":-27,"title":null}},"x2":{"datum":100}}},
   {"transform":[{"filter":"datum.ch==11"}],"mark":{"type":"rule","strokeWidth":6.5,"strokeCap":"round","strokeDash":[0,3.12]},"encoding":{"x":{"field":"mv","type":"quantitative","scale":{"domain":[0,100],"range":[26.5,114],"nice":false},"axis":{"values":[0,50,100],"offset":-27,"title":null}},"y":{"field":"p0","type":"quantitative","scale":{"domain":[0,360],"range":[107,7],"nice":false},"axis":{"values":[0,90,180,270,360],"offset":-26.5,"ticks":false,"title":null}},"y2":{"field":"p1"},"color":{"field":"c","type":"nominal","scale":{"domain":["k","b","c","m","r","y"],"range":["#000000","#0000ff","#00ffff","#ff00ff","#ff0000","#ffff00"]},"legend":null}}}
  ]},
  {"width":123,"height":134,"title":{"text":"Ch. 12","anchor":"end","dx":-50,"fontSize":11,"fontWeight":400,"font":"Liberation Sans"},"layer":[
   {"data":{"values":[{}]},"mark":{"type":"rect","fill":"white","stroke":"#808080","strokeWidth":1},"encoding":{"x":{"datum":0,"type":"quantitative","scale":{"domain":[0,100],"range":[26.5,114],"nice":false},"axis":{"values":[0,50,100],"offset":-27,"title":null}},"x2":{"datum":100},"y":{"datum":0,"type":"quantitative","scale":{"domain":[0,360],"range":[107,7],"nice":false},"axis":{"values":[0,90,180,270,360],"offset":-26.5,"ticks":false,"title":null}},"y2":{"datum":360}}},
   {"data":{"values":[{"g":90},{"g":180},{"g":270}]},"mark":{"type":"rule","color":"#a0a0a0"},"encoding":{"y":{"field":"g","type":"quantitative","scale":{"domain":[0,360],"range":[107,7],"nice":false},"axis":{"values":[0,90,180,270,360],"offset":-26.5,"ticks":false,"title":null}},"x":{"datum":0,"type":"quantitative","scale":{"domain":[0,100],"range":[26.5,114],"nice":false},"axis":{"values":[0,50,100],"offset":-27,"title":null}},"x2":{"datum":100}}},
   {"transform":[{"filter":"datum.ch==12"}],"mark":{"type":"rule","strokeWidth":6.5,"strokeCap":"round","strokeDash":[0,3.12]},"encoding":{"x":{"field":"mv","type":"quantitative","scale":{"domain":[0,100],"range":[26.5,114],"nice":false},"axis":{"values":[0,50,100],"offset":-27,"title":null}},"y":{"field":"p0","type":"quantitative","scale":{"domain":[0,360],"range":[107,7],"nice":false},"axis":{"values":[0,90,180,270,360],"offset":-26.5,"ticks":false,"title":null}},"y2":{"field":"p1"},"color":{"field":"c","type":"nominal","scale":{"domain":["k","b","c","m","r","y"],"range":["#000000","#0000ff","#00ffff","#ff00ff","#ff0000","#ffff00"]},"legend":null}}}
  ]},
  {"width":123,"height":134,"title":{"text":"Ch. 13","anchor":"end","dx":-50,"fontSize":11,"fontWeight":400,"font":"Liberation Sans"},"layer":[
   {"data":{"values":[{}]},"mark":{"type":"rect","fill":"white","stroke":"#808080","strokeWidth":1},"encoding":{"x":{"datum":0,"type":"quantitative","scale":{"domain":[0,100],"range":[26.5,114],"nice":false},"axis":{"values":[0,50,100],"offset":-27,"title":null}},"x2":{"datum":100},"y":{"datum":0,"type":"quantitative","scale":{"domain":[0,360],"range":[107,7],"nice":false},"axis":{"values":[0,90,180,270,360],"offset":-26.5,"ticks":false,"title":null}},"y2":{"datum":360}}},
   {"data":{"values":[{"g":90},{"g":180},{"g":270}]},"mark":{"type":"rule","color":"#a0a0a0"},"encoding":{"y":{"field":"g","type":"quantitative","scale":{"domain":[0,360],"range":[107,7],"nice":false},"axis":{"values":[0,90,180,270,360],"offset":-26.5,"ticks":false,"title":null}},"x":{"datum":0,"type":"quantitative","scale":{"domain":[0,100],"range":[26.5,114],"nice":false},"axis":{"values":[0,50,100],"offset":-27,"title":null}},"x2":{"datum":100}}},
   {"transform":[{"filter":"datum.ch==13"}],"mark":{"type":"rule","strokeWidth":6.5,"strokeCap":"round","strokeDash":[0,3.12]},"encoding":{"x":{"field":"mv","type":"quantitative","scale":{"domain":[0,100],"range":[26.5,114],"nice":false},"axis":{"values":[0,50,100],"offset":-27,"title":null}},"y":{"field":"p0","type":"quantitative","scale":{"domain":[0,360],"range":[107,7],"nice":false},"axis":{"values":[0,90,180,270,360],"offset":-26.5,"ticks":false,"title":null}},"y2":{"field":"p1"},"color":{"field":"c","type":"nominal","scale":{"domain":["k","b","c","m","r","y"],"range":["#000000","#0000ff","#00ffff","#ff00ff","#ff0000","#ffff00"]},"legend":null}}}
  ]},
  {"width":123,"height":134,"title":{"text":"Ch. 14","anchor":"end","dx":-50,"fontSize":11,"fontWeight":400,"font":"Liberation Sans"},"layer":[
   {"data":{"values":[{}]},"mark":{"type":"rect","fill":"white","stroke":"#808080","strokeWidth":1},"encoding":{"x":{"datum":0,"type":"quantitative","scale":{"domain":[0,60],"range":[26.5,114],"nice":false},"axis":{"values":[0,20,40,60],"offset":-27,"title":null}},"x2":{"datum":60},"y":{"datum":0,"type":"quantitative","scale":{"domain":[0,360],"range":[107,7],"nice":false},"axis":{"values":[0,90,180,270,360],"offset":-26.5,"ticks":false,"title":null}},"y2":{"datum":360}}},
   {"data":{"values":[{"g":90},{"g":180},{"g":270}]},"mark":{"type":"rule","color":"#a0a0a0"},"encoding":{"y":{"field":"g","type":"quantitative","scale":{"domain":[0,360],"range":[107,7],"nice":false},"axis":{"values":[0,90,180,270,360],"offset":-26.5,"ticks":false,"title":null}},"x":{"datum":0,"type":"quantitative","scale":{"domain":[0,60],"range":[26.5,114],"nice":false},"axis":{"values":[0,20,40,60],"offset":-27,"title":null}},"x2":{"datum":60}}},
   {"transform":[{"filter":"datum.ch==14"}],"mark":{"type":"rule","strokeWidth":6.5,"strokeCap":"round","strokeDash":[0,3.12]},"encoding":{"x":{"field":"mv","type":"quantitative","scale":{"domain":[0,60],"range":[26.5,114],"nice":false},"axis":{"values":[0,20,40,60],"offset":-27,"title":null}},"y":{"field":"p0","type":"quantitative","scale":{"domain":[0,360],"range":[107,7],"nice":false},"axis":{"values":[0,90,180,270,360],"offset":-26.5,"ticks":false,"title":null}},"y2":{"field":"p1"},"color":{"field":"c","type":"nominal","scale":{"domain":["k","b","c","m","r","y"],"range":["#000000","#0000ff","#00ffff","#ff00ff","#ff0000","#ffff00"]},"legend":null}}}
  ]},
  {"width":123,"height":134,"title":{"text":"Ch. 15","anchor":"end","dx":-50,"fontSize":11,"fontWeight":400,"font":"Liberation Sans"},"layer":[
   {"data":{"values":[{}]},"mark":{"type":"rect","fill":"white","stroke":"#808080","strokeWidth":1},"encoding":{"x":{"datum":0,"type":"quantitative","scale":{"domain":[0,15],"range":[26.5,114],"nice":false},"axis":{"values":[0,10],"offset":-27,"title":null}},"x2":{"datum":15},"y":{"datum":0,"type":"quantitative","scale":{"domain":[0,360],"range":[107,7],"nice":false},"axis":{"values":[0,90,180,270,360],"offset":-26.5,"ticks":false,"title":null}},"y2":{"datum":360}}},
   {"data":{"values":[{"g":90},{"g":180},{"g":270}]},"mark":{"type":"rule","color":"#a0a0a0"},"encoding":{"y":{"field":"g","type":"quantitative","scale":{"domain":[0,360],"range":[107,7],"nice":false},"axis":{"values":[0,90,180,270,360],"offset":-26.5,"ticks":false,"title":null}},"x":{"datum":0,"type":"quantitative","scale":{"domain":[0,15],"range":[26.5,114],"nice":false},"axis":{"values":[0,10],"offset":-27,"title":null}},"x2":{"datum":15}}},
   {"transform":[{"filter":"datum.ch==15"}],"mark":{"type":"rule","strokeWidth":6.5,"strokeCap":"round","strokeDash":[0,3.12]},"encoding":{"x":{"field":"mv","type":"quantitative","scale":{"domain":[0,15],"range":[26.5,114],"nice":false},"axis":{"values":[0,10],"offset":-27,"title":null}},"y":{"field":"p0","type":"quantitative","scale":{"domain":[0,360],"range":[107,7],"nice":false},"axis":{"values":[0,90,180,270,360],"offset":-26.5,"ticks":false,"title":null}},"y2":{"field":"p1"},"color":{"field":"c","type":"nominal","scale":{"domain":["k","b","c","m","r","y"],"range":["#000000","#0000ff","#00ffff","#ff00ff","#ff0000","#ffff00"]},"legend":null}}}
  ]}
]}
],
"config":{
 "font":"Liberation Sans",
 "view":{"fill":"#bdbdbd","stroke":"#707070","strokeWidth":1},
 "axis":{"domain":false,"grid":false,"labelFont":"Liberation Sans","labelFontSize":11,"labelColor":"#000000","labelFlush":false,"labelOverlap":false,"tickColor":"#000000","tickSize":5,"labelPadding":3},
 "style":{"group-title":{"fontSize":11,"fontWeight":400,"font":"Liberation Sans"}},
 "title":{"font":"Liberation Sans","fontSize":11,"fontWeight":400,"color":"#000000","offset":4}
}
}
